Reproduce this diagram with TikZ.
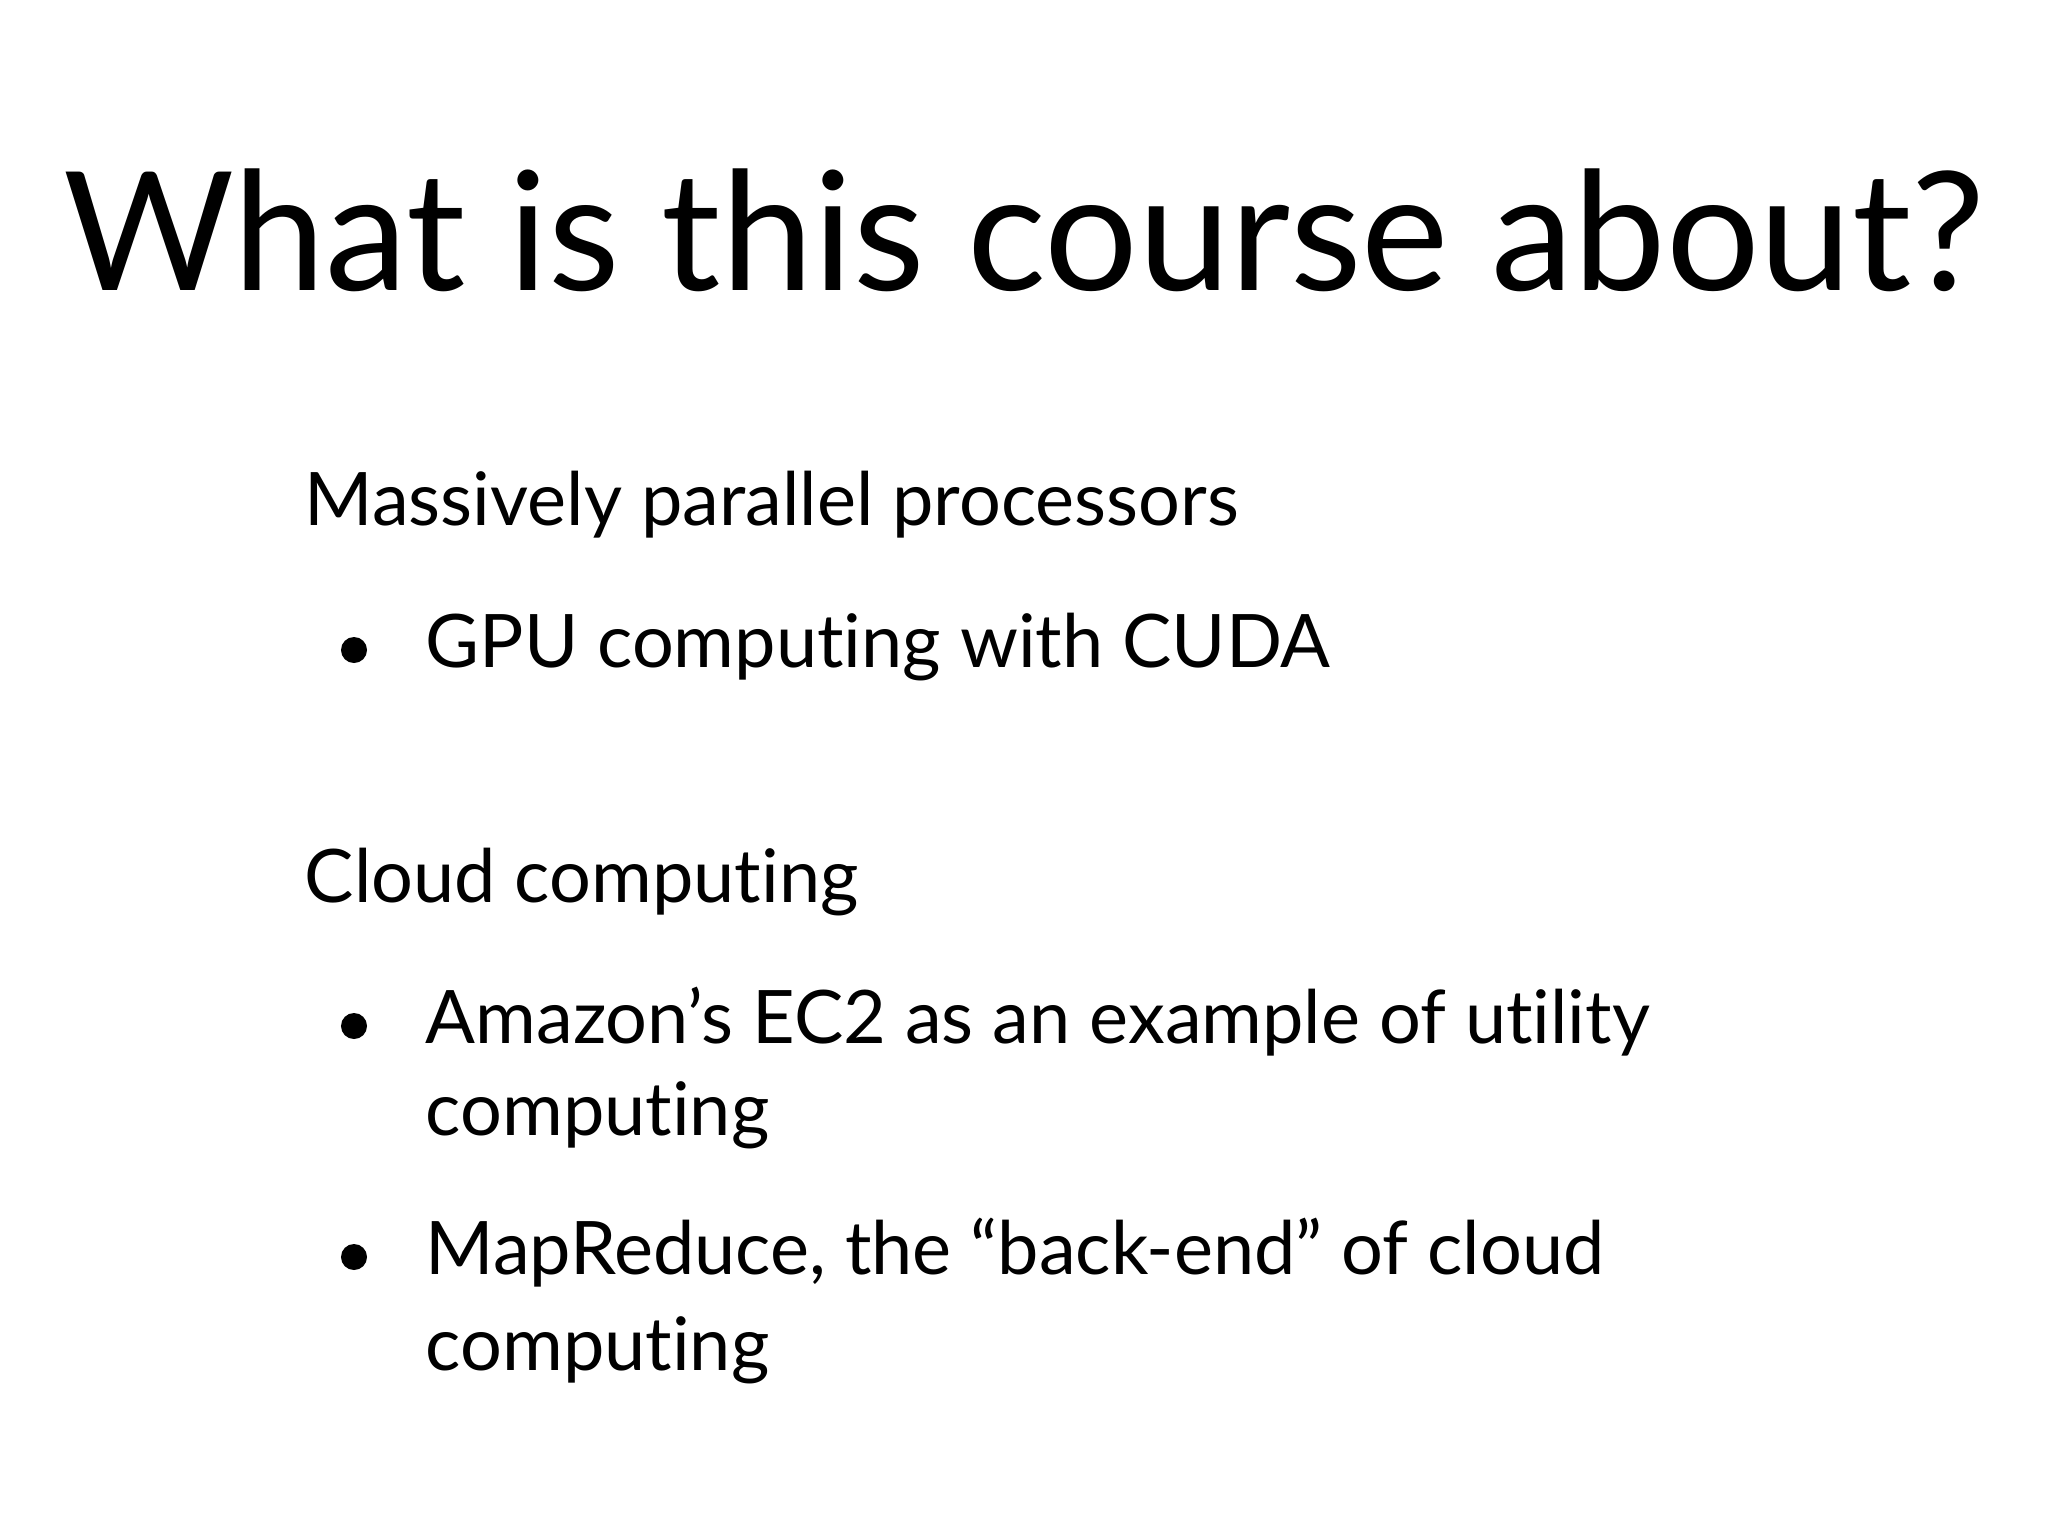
\documentclass[tikz,border=0pt]{standalone}
\usepackage{fontspec}
\setmainfont{Lato}[Ligatures={NoCommon,NoRare}]
\begin{document}
\begin{tikzpicture}[x=0.01cm,y=-0.01cm,
  tl/.style={anchor=base west,inner sep=0pt,font=\fontsize{21}{26}\selectfont},
  bul/.style={circle,fill=black,inner sep=0pt,minimum size=0.26cm}]
\useasboundingbox (0,0) rectangle (2048,1536);
\node[anchor=base,inner sep=0pt,font=\fontsize{47}{54}\selectfont] (title) at (1024,290) {What is this course about?};
\node[tl] (h1) at (304,525) {Massively parallel processors};
\node[bul] (b1) at (354,650) {};
\node[tl] (t1) at (425,667) {GPU computing with CUDA};
\node[tl] (h2) at (304,902) {Cloud computing};
\node[bul] (b2) at (354,1026) {};
\node[tl] (t2) at (425,1043) {Amazon’s EC2 as an example of utility};
\node[tl] (t2b) at (425,1135) {computing};
\node[bul] (b3) at (354,1257) {};
\node[tl] (t3) at (425,1274) {MapReduce, the “back-end” of cloud};
\node[tl] (t3b) at (425,1370) {computing};
\end{tikzpicture}
\end{document}
